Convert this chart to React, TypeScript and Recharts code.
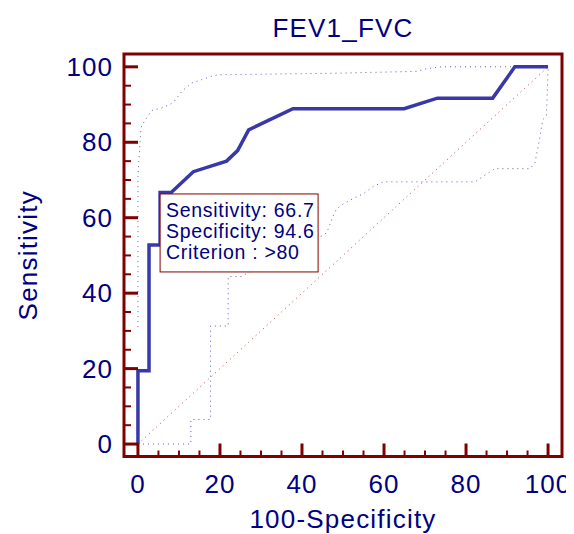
import React from 'react';
import { ComposedChart, Line, XAxis, YAxis, ReferenceArea, ReferenceDot, Label } from 'recharts';

// ROC curve (100-Specificity, Sensitivity)
const rocX = [0, 0, 2.7, 2.7, 5.4, 5.4, 8.1, 13.5, 21.6, 24.3, 27, 37.8, 64.9, 73, 86.5, 91.9, 100];
const rocY = [0, 19.4, 19.4, 52.8, 52.8, 66.7, 66.7, 72.2, 75, 77.8, 83.3, 88.9, 88.9, 91.7, 91.7, 100, 100];

// Upper confidence bound
const upperX = [0, 0, 0.7, 0.9, 3.3, 5.5, 7.6, 8.8, 10.7, 13.1, 15.5, 18, 19.6, 48, 68, 70.4, 74, 100];
const upperY = [31, 71, 83.3, 84.4, 88.4, 89, 89.9, 90.8, 93.5, 95.7, 96.6, 97.5, 97.9, 98.3, 98.8, 99.5, 100, 100];

// Lower confidence bound
const lowerX = [0, 12.9, 12.9, 17.7, 17.7, 22, 22, 25.3, 26.9, 45.6, 46.4, 47.6, 48.4, 50, 52.5, 55, 57.4, 59.8, 82.2, 87, 95.6, 96.8, 97.9, 98.7, 99.6, 100, 100];
const lowerY = [0, 0, 6.5, 6.5, 31.3, 31.3, 44.4, 44.4, 45.5, 55.6, 57, 60.5, 62.3, 63.6, 65.1, 66.4, 68.3, 69.5, 69.5, 73, 73, 74.5, 80.7, 86, 86.9, 99.2, 100];

// Reference diagonal
const diagX = [0, 100];
const diagY = [0, 100];

// Axes
const xDomain = [-3.4, 103.4];
const yDomain = [-3.3, 103.4];
const tickValues = [0, 5, 10, 15, 20, 25, 30, 35, 40, 45, 50, 55, 60, 65, 70, 75, 80, 85, 90, 95, 100];

// Criterion point and box text
const critX = 5.4;
const critY = 66.7;
const boxLines = ['Sensitivity: 66.7', 'Specificity: 94.6', 'Criterion : >80'];

const zip = (xs: number[], ys: number[]) => xs.map((x, i) => ({ x, y: ys[i] }));
const rocData = zip(rocX, rocY);
const upperData = zip(upperX, upperY);
const lowerData = zip(lowerX, lowerY);
const diagData = zip(diagX, diagY);

const FONT = '"Liberation Sans", Arial, sans-serif';
const NAVY = '#000080';
const FRAME = '#800000';

const XTick = (props: any) => {
  const { x, y, payload } = props;
  const v = payload.value;
  const major = v % 20 === 0;
  return (
    <g>
      <line x1={x} x2={x} y1={y} y2={y - (major ? 13 : 6)} stroke={FRAME} strokeWidth={major ? 3 : 2} />
      {major && (
        <text x={x} y={y + 36} textAnchor="middle" fill={NAVY} fontSize={26} fontFamily={FONT} letterSpacing={1}>
          {v}
        </text>
      )}
    </g>
  );
};

const YTick = (props: any) => {
  const { x, y, payload } = props;
  const v = payload.value;
  const major = v % 20 === 0;
  return (
    <g>
      <line x1={x} x2={x + (major ? 14 : 7)} y1={y} y2={y} stroke={FRAME} strokeWidth={major ? 3 : 2} />
      {major && (
        <text x={x - 11} y={y + 9} textAnchor="end" fill={NAVY} fontSize={26} fontFamily={FONT} letterSpacing={1}>
          {v}
        </text>
      )}
    </g>
  );
};

const InfoBox = (props: any) => {
  const { cx, cy } = props;
  const top = cy + 1.5;
  return (
    <g>
      <rect x={cx} y={top} width={158} height={78} fill="#ffffff" stroke={FRAME} strokeWidth={1} />
      {boxLines.map((t, i) => (
        <text key={i} x={cx + 6} y={top + 23.5 + i * 20.7} fill={NAVY} fontSize={19.5} fontFamily={FONT} letterSpacing={0.7}>
          {t}
        </text>
      ))}
    </g>
  );
};

export default function App() {
  return (
    <ComposedChart width={566} height={526} margin={{ top: 46, right: 12, left: 0, bottom: 0 }}>
      <XAxis
        dataKey="x"
        type="number"
        domain={xDomain}
        ticks={tickValues}
        interval={0}
        allowDataOverflow
        axisLine={false}
        tickLine={false}
        tickSize={0}
        tickMargin={0}
        height={77.5}
        tick={<XTick />}
      >
        <Label value="100-Specificity" position="insideBottom" offset={6} fill={NAVY} fontSize={26} fontFamily={FONT} letterSpacing={1.2} />
      </XAxis>
      <YAxis
        dataKey="y"
        type="number"
        domain={yDomain}
        ticks={tickValues}
        interval={0}
        allowDataOverflow
        axisLine={false}
        tickLine={false}
        tickSize={0}
        tickMargin={0}
        width={116}
        tick={<YTick />}
      >
        <Label value="Sensitivity" angle={-90} position="insideLeft" offset={20} fill={NAVY} fontSize={26} fontFamily={FONT} letterSpacing={1.2} style={{ textAnchor: 'middle' }} />
      </YAxis>
      <ReferenceArea x1={xDomain[0]} x2={xDomain[1]} y1={yDomain[0]} y2={yDomain[1]} fill="none" fillOpacity={0} stroke={FRAME} strokeWidth={3} ifOverflow="visible">
        <Label value="FEV1_FVC" position="top" offset={17} fill={NAVY} fontSize={26} fontFamily={FONT} letterSpacing={1.2} />
      </ReferenceArea>
      <Line data={diagData} dataKey="y" type="linear" stroke="#c04040" strokeWidth={1} strokeDasharray="1 4" dot={false} activeDot={false} isAnimationActive={false} />
      <Line data={upperData} dataKey="y" type="linear" stroke="#5a5ac8" strokeWidth={1} strokeDasharray="1 4" dot={false} activeDot={false} isAnimationActive={false} />
      <Line data={lowerData} dataKey="y" type="linear" stroke="#5a5ac8" strokeWidth={1} strokeDasharray="1 4" dot={false} activeDot={false} isAnimationActive={false} />
      <Line data={rocData} dataKey="y" type="linear" stroke="#3838a8" strokeWidth={3.5} dot={false} activeDot={false} isAnimationActive={false} />
      <ReferenceDot x={critX} y={critY} ifOverflow="visible" shape={<InfoBox />} zIndex={2000} />
    </ComposedChart>
  );
}
